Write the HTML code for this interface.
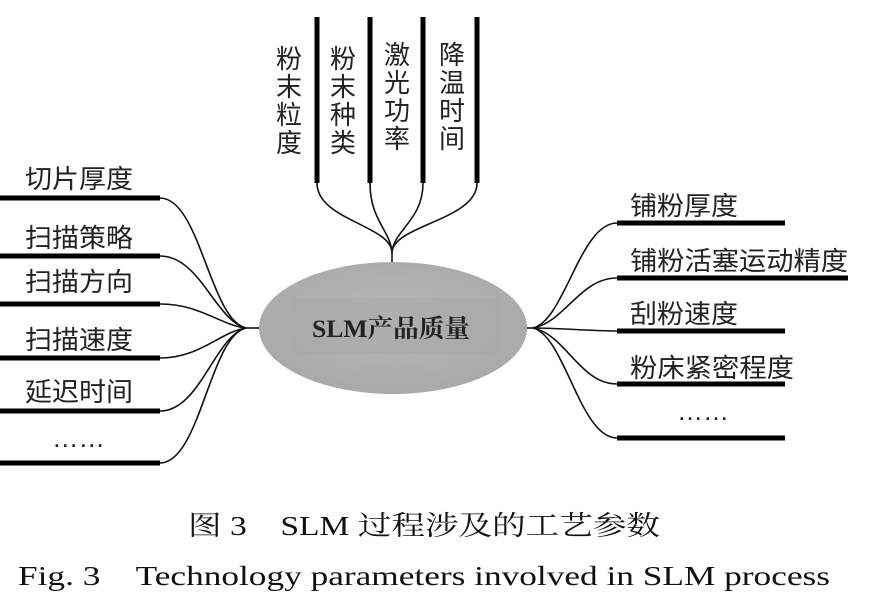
<!DOCTYPE html>
<html><head><meta charset="utf-8"><style>
html,body{margin:0;padding:0;background:#fff;width:882px;height:602px;overflow:hidden}
</style></head><body>
<svg width="882" height="602" viewBox="0 0 882 602" xmlns="http://www.w3.org/2000/svg">
<defs>
<radialGradient id="g" cx="50%" cy="45%" r="60%">
<stop offset="0" stop-color="#b8b8b8"/><stop offset="1" stop-color="#a8a8a8"/>
</radialGradient>
</defs>
<g fill="none" stroke="#111" stroke-width="1.6">
<path d="M317,183 C317,220 390,225 392,252"/>
<path d="M370,183 C370,220 390,230 392,252"/>
<path d="M423,183 C423,220 394,230 392,252"/>
<path d="M477,183 C477,220 394,225 392,252"/>
<path d="M392,250 L392,262"/>
<path d="M160,198 C200,198 210,320 246,328"/>
<path d="M160,256 C200,256 215,320 246,328"/>
<path d="M160,304 C200,304 220,325 246,328"/>
<path d="M160,358 C200,358 220,332 246,328"/>
<path d="M160,411 C200,411 215,336 246,328"/>
<path d="M160,463 C200,463 210,336 246,328"/>
<path d="M246,328 L259,328"/>
<path d="M617,223 C580,223 565,320 533,328"/>
<path d="M617,278 C580,278 565,322 533,328"/>
<path d="M617,331 C590,331 560,328 533,328"/>
<path d="M617,384 C580,384 565,334 533,328"/>
<path d="M617,438 C580,438 565,336 533,328"/>
<path d="M527,328 L533,328"/>
</g>
<g stroke="#000" stroke-width="5">
<line x1="317" y1="17" x2="317" y2="183"/>
<line x1="370" y1="17" x2="370" y2="183"/>
<line x1="423" y1="17" x2="423" y2="183"/>
<line x1="477" y1="17" x2="477" y2="183"/>
<line x1="0" y1="198" x2="160" y2="198"/>
<line x1="0" y1="256" x2="160" y2="256"/>
<line x1="0" y1="304" x2="160" y2="304"/>
<line x1="0" y1="358" x2="160" y2="358"/>
<line x1="0" y1="411" x2="160" y2="411"/>
<line x1="0" y1="463" x2="160" y2="463"/>
<line x1="617" y1="223" x2="785" y2="223"/>
<line x1="617" y1="278" x2="848" y2="278"/>
<line x1="617" y1="331" x2="785" y2="331"/>
<line x1="617" y1="384" x2="785" y2="384"/>
<line x1="617" y1="438" x2="785" y2="438"/>
</g>
<ellipse cx="393" cy="328" rx="134" ry="66" fill="url(#g)"/>
<rect x="292" y="298" width="208" height="56" fill="#a9a9a9" opacity="0.6"/>
<text x="312" y="337" textLength="158" lengthAdjust="spacingAndGlyphs" font-family="Liberation Serif, Noto Serif CJK SC, serif" font-weight="bold" font-size="25" fill="#222">SLM产品质量</text>
<g font-family="Liberation Sans, Noto Sans CJK SC, sans-serif" font-size="26" fill="#222">
<text x="25" y="188" textLength="108" lengthAdjust="spacingAndGlyphs">切片厚度</text>
<text x="25" y="247" textLength="108" lengthAdjust="spacingAndGlyphs">扫描策略</text>
<text x="25" y="291" textLength="108" lengthAdjust="spacingAndGlyphs">扫描方向</text>
<text x="25" y="349" textLength="108" lengthAdjust="spacingAndGlyphs">扫描速度</text>
<text x="25" y="401" textLength="108" lengthAdjust="spacingAndGlyphs">延迟时间</text>
<text x="52" y="447" textLength="53" lengthAdjust="spacingAndGlyphs">……</text>
<text x="630" y="215" textLength="108" lengthAdjust="spacingAndGlyphs">铺粉厚度</text>
<text x="630" y="270" textLength="218" lengthAdjust="spacingAndGlyphs">铺粉活塞运动精度</text>
<text x="630" y="323" textLength="108" lengthAdjust="spacingAndGlyphs">刮粉速度</text>
<text x="630" y="377" textLength="164" lengthAdjust="spacingAndGlyphs">粉床紧密程度</text>
<text x="677" y="420" textLength="52" lengthAdjust="spacingAndGlyphs">……</text>
</g>
<g font-family="Liberation Sans, Noto Sans CJK SC, sans-serif" font-size="26" fill="#222" text-anchor="middle">
<text x="289" y="68">粉</text><text x="289" y="96">末</text><text x="289" y="124">粒</text><text x="289" y="152">度</text>
<text x="343" y="68">粉</text><text x="343" y="96">末</text><text x="343" y="124">种</text><text x="343" y="152">类</text>
<text x="397" y="64">激</text><text x="397" y="92">光</text><text x="397" y="120">功</text><text x="397" y="148">率</text>
<text x="452" y="64">降</text><text x="452" y="92">温</text><text x="452" y="120">时</text><text x="452" y="148">间</text>
</g>
<g font-family="Liberation Serif, Noto Serif CJK SC, serif" font-size="27" fill="#111">
<text x="188" y="535" textLength="472" lengthAdjust="spacingAndGlyphs">图 3　SLM 过程涉及的工艺参数</text>
<text x="18" y="585" textLength="812" lengthAdjust="spacingAndGlyphs">Fig. 3　Technology parameters involved in SLM process</text>
</g>
</svg>
</body></html>
